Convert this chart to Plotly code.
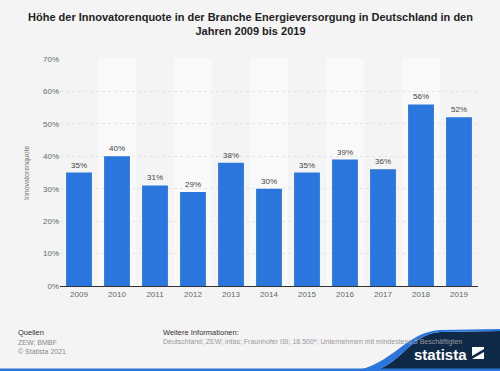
import plotly.graph_objects as go

years = ["2009", "2010", "2011", "2012", "2013", "2014", "2015", "2016", "2017", "2018", "2019"]
values = [35, 40, 31, 29, 38, 30, 35, 39, 36, 56, 52]
labels = ["35%", "40%", "31%", "29%", "38%", "30%", "35%", "39%", "36%", "56%", "52%"]
yticks = [0, 10, 20, 30, 40, 50, 60, 70]
yticklabels = ["0%", "10%", "20%", "30%", "40%", "50%", "60%", "70%"]

W, H = 500, 371
L, R, T, B = 60, 22, 59, 85
pw = W - L - R
ph = H - T - B

def px(x):
    return (x - L) / pw

def py(y):
    return (H - B - y) / ph

FONT = "Liberation Sans, Arial, sans-serif"

fig = go.Figure()
fig.add_trace(go.Bar(
    x=years, y=values, text=labels, textposition="outside",
    textfont=dict(size=8, color="#444", family=FONT),
    marker=dict(color="#2a76dd", line=dict(width=0)),
    cliponaxis=False, hoverinfo="skip",
))

shapes = []
for i, yr in enumerate(years):
    if i % 2 == 1:
        shapes.append(dict(type="rect", xref="x", yref="paper", x0=i - 0.5, x1=i + 0.5,
                           y0=0, y1=1, fillcolor="#f9f9f9", line=dict(width=0), layer="below"))

shapes.append(dict(type="path", xref="paper", yref="paper",
                   path=f"M {px(372)} {py(371)} C {px(400)} {py(366)}, {px(410)} {py(334)}, {px(440)} {py(332)} L {px(500)} {py(331)} L {px(500)} {py(371)} Z",
                   fillcolor="#0f2a48", line=dict(width=0), layer="above"))
shapes.append(dict(type="path", xref="paper", yref="paper",
                   path=f"M {px(352)} {py(371)} C {px(392)} {py(366)}, {px(405)} {py(332)}, {px(440)} {py(330)} L {px(500)} {py(329)} L {px(500)} {py(331)} L {px(440)} {py(332)} C {px(410)} {py(334)}, {px(400)} {py(366)}, {px(372)} {py(371)} Z",
                   fillcolor="#2a76dd", line=dict(width=0), layer="above"))
shapes.append(dict(type="rect", xref="paper", yref="paper", x0=px(0), x1=px(500),
                   y0=py(371), y1=py(368.5), fillcolor="#2a76dd", line=dict(width=0)))
shapes.append(dict(type="path", xref="paper", yref="paper",
                   path=f"M {px(472)} {py(347)} L {px(484)} {py(347)} L {px(484)} {py(359)} L {px(472)} {py(359)} Z",
                   fillcolor="#ffffff", line=dict(width=0)))
shapes.append(dict(type="path", xref="paper", yref="paper",
                   path=f"M {px(472)} {py(356)} L {px(484)} {py(349)} L {px(484)} {py(352)} L {px(472)} {py(359)} Z",
                   fillcolor="#0f2a48", line=dict(width=0)))

annotations = [
    dict(text="<b>Höhe der Innovatorenquote in der Branche Energieversorgung in Deutschland in den<br>Jahren 2009 bis 2019</b>",
         xref="paper", yref="paper", x=px(250), y=py(9), xanchor="center", yanchor="top",
         showarrow=False, font=dict(size=11, color="#222", family=FONT)),
    dict(text="Innovatorenquote", textangle=-90, xref="paper", yref="paper",
         x=px(27), y=py(173), xanchor="center", yanchor="middle", showarrow=False,
         font=dict(size=7, color="#777", family=FONT)),
    dict(text="Quellen", xref="paper", yref="paper", x=px(16), y=py(332), xanchor="left",
         yanchor="middle", showarrow=False, font=dict(size=7.5, color="#333", family=FONT)),
    dict(text="ZEW; BMBF", xref="paper", yref="paper", x=px(16), y=py(342), xanchor="left",
         yanchor="middle", showarrow=False, font=dict(size=7, color="#888", family=FONT)),
    dict(text="© Statista 2021", xref="paper", yref="paper", x=px(16), y=py(351.5), xanchor="left",
         yanchor="middle", showarrow=False, font=dict(size=7, color="#888", family=FONT)),
    dict(text="Weitere Informationen:", xref="paper", yref="paper", x=px(161), y=py(332), xanchor="left",
         yanchor="middle", showarrow=False, font=dict(size=7.5, color="#333", family=FONT)),
    dict(text="Deutschland; ZEW; infas; Fraunhofer ISI; 18.500*; Unternehmen mit mindestens 5 Beschäftigten",
         xref="paper", yref="paper", x=px(161), y=py(341.5), xanchor="left",
         yanchor="middle", showarrow=False, font=dict(size=7, color="#999", family=FONT)),
    dict(text="<b>statista</b>", xref="paper", yref="paper", x=px(469), y=py(354), xanchor="right",
         yanchor="middle", showarrow=False, font=dict(size=15, color="#ffffff", family=FONT)),
]

fig.update_layout(
    width=W, height=H,
    margin=dict(l=L, r=R, t=T, b=B, autoexpand=False),
    paper_bgcolor="#f4f4f4", plot_bgcolor="#f4f4f4",
    bargap=0.32, showlegend=False, hovermode=False,
    shapes=shapes, annotations=annotations,
    xaxis=dict(type="category", tickfont=dict(size=8, color="#666", family=FONT),
               showgrid=False, showline=True, linecolor="#333", linewidth=1,
               ticks="", range=[-0.5, 10.5], fixedrange=True),
    yaxis=dict(range=[0, 70], tickvals=yticks, ticktext=yticklabels,
               tickfont=dict(size=8, color="#666", family=FONT),
               showgrid=True, gridcolor="#e4e4e4", gridwidth=1, griddash="dot",
               zeroline=False, ticks="", fixedrange=True),
    font=dict(family=FONT),
)

fig.write_html("out.html", config={"displayModeBar": False},
               post_script="document.body.style.margin='0';document.body.style.overflow='hidden';")
